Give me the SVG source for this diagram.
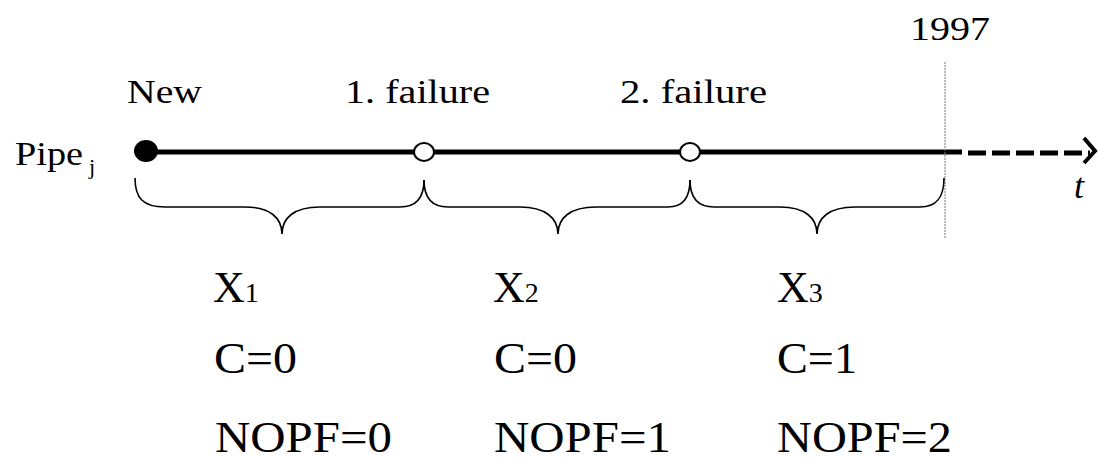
<svg xmlns="http://www.w3.org/2000/svg" width="1098" height="460" viewBox="0 0 1098 460">
<style>
text{font-family:"Liberation Serif","Times New Roman",serif;fill:#000}
.lbl{font-size:34px}
.big{font-size:44px}
.sub{font-size:28px}
.brace{fill:none;stroke:#000;stroke-width:1.6}
</style>
<rect width="1098" height="460" fill="#fff"/>
<g id="connectors">
<line x1="146" y1="152" x2="962" y2="152" stroke="#000" stroke-width="5"/>
<line x1="968" y1="153" x2="1090" y2="153" stroke="#000" stroke-width="5" stroke-dasharray="18 6"/>
<path d="M1084,138 L1095,151 L1084,163" fill="none" stroke="#000" stroke-width="4"/>
<line x1="945" y1="62" x2="945" y2="238" stroke="#777" stroke-width="1" stroke-dasharray="2 1"/>
</g>
<g id="node-new"><ellipse cx="146" cy="151" rx="12" ry="11" fill="#000"/><text class="lbl" x="127" y="103" textLength="75" lengthAdjust="spacingAndGlyphs">New</text></g>
<g id="node-failure1"><ellipse cx="424" cy="152" rx="10" ry="9" fill="#fff" stroke="#000" stroke-width="2"/><text class="lbl" x="345" y="103" textLength="145" lengthAdjust="spacingAndGlyphs">1. failure</text></g>
<g id="node-failure2"><ellipse cx="690" cy="152" rx="10" ry="9" fill="#fff" stroke="#000" stroke-width="2"/><text class="lbl" x="620" y="103" textLength="147" lengthAdjust="spacingAndGlyphs">2. failure</text></g>
<g id="label-1997"><text class="lbl" x="910" y="40" textLength="80" lengthAdjust="spacingAndGlyphs">1997</text></g>
<g id="label-pipe"><text class="lbl" x="15" y="165" textLength="68" lengthAdjust="spacingAndGlyphs">Pipe</text><text x="89" y="174" font-size="22">j</text></g>
<g id="label-t"><text x="1074" y="198" font-size="36" font-style="italic">t</text></g>
<g id="braces">
<path class="brace" d="M135,178 C135,198 143,207 165,207 L245,207 C270,207 282,218 282,234 C282,218 294,207 320,207 L400,207 C418,207 424,196 424,180"/>
<path class="brace" d="M424,180 C424,196 430,207 448,207 L520,207 C545,207 558,218 558,234 C558,218 570,207 596,207 L668,207 C684,207 690,196 690,180"/>
<path class="brace" d="M690,180 C690,196 696,207 714,207 L780,207 C805,207 817,218 817,234 C817,218 829,207 855,207 L920,207 C938,207 944,196 944,178"/>
</g>
<g id="interval-1">
<text class="big" x="213" y="302">X<tspan class="sub">1</tspan></text>
<text class="big" x="214" y="373" textLength="83" lengthAdjust="spacingAndGlyphs">C=0</text>
<text class="big" x="215" y="452" textLength="177" lengthAdjust="spacingAndGlyphs">NOPF=0</text>
</g>
<g id="interval-2">
<text class="big" x="493" y="302">X<tspan class="sub">2</tspan></text>
<text class="big" x="494" y="373" textLength="83" lengthAdjust="spacingAndGlyphs">C=0</text>
<text class="big" x="494" y="452" textLength="177" lengthAdjust="spacingAndGlyphs">NOPF=1</text>
</g>
<g id="interval-3">
<text class="big" x="777" y="302">X<tspan class="sub">3</tspan></text>
<text class="big" x="777" y="373" textLength="80" lengthAdjust="spacingAndGlyphs">C=1</text>
<text class="big" x="777" y="452" textLength="175" lengthAdjust="spacingAndGlyphs">NOPF=2</text>
</g>
</svg>
